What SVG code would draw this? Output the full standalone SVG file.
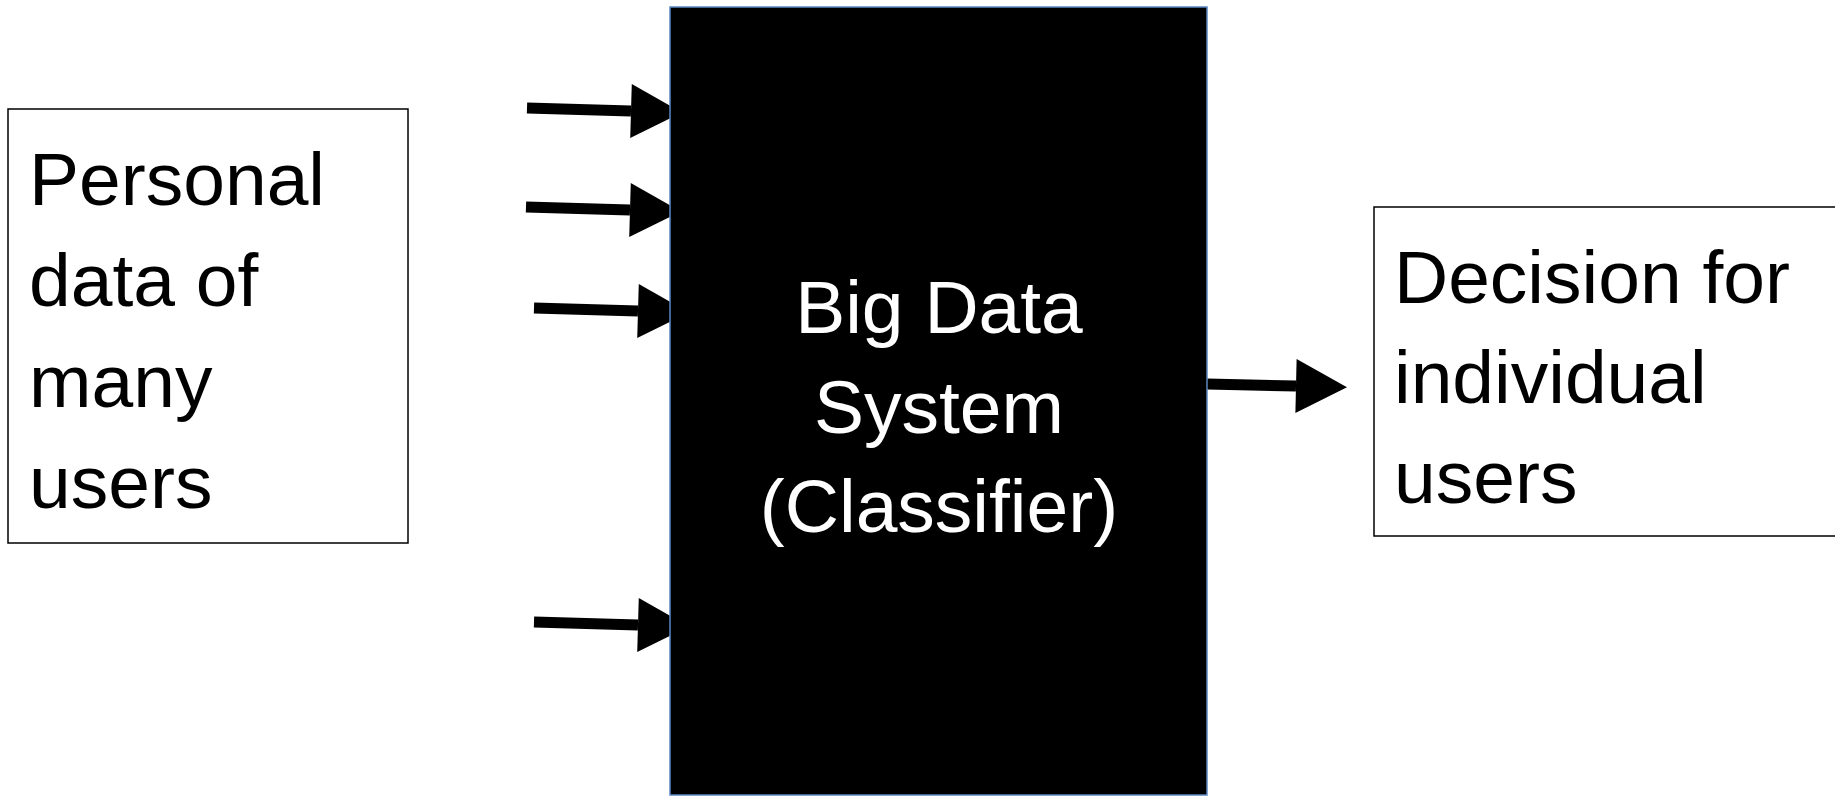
<svg xmlns="http://www.w3.org/2000/svg" width="1835" height="797" viewBox="0 0 1835 797">
<style>
.t{font-family:"Liberation Sans",Arial,sans-serif;font-size:75px;fill:#000}
.w{fill:#fff}
.box{fill:#fff;stroke:#000;stroke-width:1.5}
.arr{stroke:#000;stroke-width:11;fill:none;marker-end:url(#head)}
</style>
<defs>
<marker id="head" markerUnits="userSpaceOnUse" markerWidth="52" markerHeight="54" refX="0" refY="27" orient="auto" overflow="visible">
<path d="M0,0 L51,27 L0,54 z" fill="#000"/>
</marker>
</defs>
<rect width="1835" height="797" fill="#fff"/>
<g id="connectors">
<line class="arr" x1="527" y1="108" x2="631" y2="111"/>
<line class="arr" x1="526" y1="207" x2="630" y2="210"/>
<line class="arr" x1="534" y1="308" x2="638" y2="311"/>
<line class="arr" x1="534" y1="622" x2="638" y2="625"/>
<line class="arr" x1="1207" y1="384" x2="1296" y2="386"/>
</g>
<g id="personal-data">
<rect class="box" x="8" y="109" width="400" height="434"/>
<text class="t" x="29" y="205">Personal</text>
<text class="t" x="29" y="306">data of</text>
<text class="t" x="29" y="407">many</text>
<text class="t" x="29" y="508">users</text>
</g>
<g id="big-data-system">
<rect x="670" y="7" width="537" height="788" fill="#000" stroke="#5b87c0" stroke-width="1.5"/>
<text class="t w" x="939" y="333" text-anchor="middle">Big Data</text>
<text class="t w" x="939" y="433" text-anchor="middle">System</text>
<text class="t w" x="939" y="532" text-anchor="middle">(Classifier)</text>
</g>
<g id="decision">
<rect class="box" x="1374" y="207" width="470" height="329"/>
<text class="t" x="1394" y="303">Decision for</text>
<text class="t" x="1394" y="403">individual</text>
<text class="t" x="1394" y="503">users</text>
</g>
</svg>
